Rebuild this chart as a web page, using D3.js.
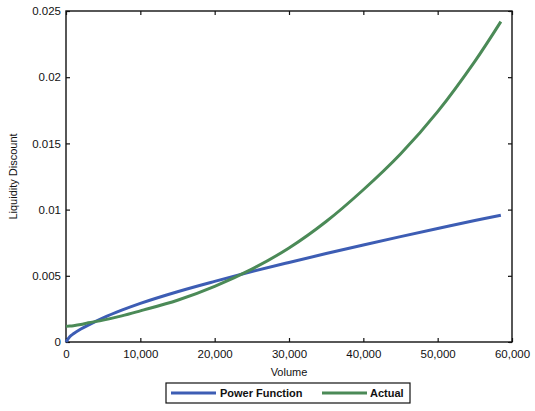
<!DOCTYPE html>
<html><head><meta charset="utf-8">
<script src="https://cdn.jsdelivr.net/npm/d3@7"></script>
<style>body{margin:0;background:#fff;} text{font-family:"Liberation Sans",Arial,sans-serif;}</style>
</head><body><svg id="c" width="535" height="411"></svg>
<script>
const volumes      = [0, 500, 1000, 2000, 3000, 5000, 7500, 10000, 15000, 20000, 25000, 30000, 35000, 40000, 45000, 50000, 55000, 58500];
const powerFunction= [0, 0.0004, 0.00062, 0.00098, 0.00128, 0.00182, 0.0024, 0.00292, 0.0038, 0.00458, 0.00532, 0.00601, 0.00668, 0.00733, 0.00796, 0.00857, 0.00917, 0.00958];
const actual       = [0.00118, 0.0012, 0.00123, 0.00132, 0.00145, 0.00165, 0.00197, 0.00235, 0.00315, 0.0042, 0.0055, 0.0071, 0.0091, 0.0115, 0.0142, 0.0174, 0.0212, 0.0242];
const xTicks = [0, 10000, 20000, 30000, 40000, 50000, 60000];
const yTicks = [0, 0.005, 0.01, 0.015, 0.02, 0.025];
const seriesNames = ["Power Function", "Actual"];
const colors = ["#3d5db4", "#4b8a57"];

const svg = d3.select("#c");
const L = 66, R = 512, T = 11, B = 342;
const x = d3.scaleLinear().domain([0, 60000]).range([L, R]);
const y = d3.scaleLinear().domain([0, 0.025]).range([B, T]);

// frame
svg.append("rect").attr("x", L).attr("y", T).attr("width", R - L).attr("height", B - T)
  .attr("fill", "none").attr("stroke", "#111").attr("stroke-width", 1.4);

const fmtX = d => d === 0 ? "0" : d3.format(",")(d);
const fmtY = d => d === 0 ? "0" : String(+d.toFixed(3));

const xb = svg.append("g").attr("transform", `translate(0,${B})`)
  .call(d3.axisBottom(x).tickValues(xTicks).tickFormat(fmtX).tickSizeInner(-4).tickSizeOuter(0).tickPadding(8));
const xt = svg.append("g").attr("transform", `translate(0,${T})`)
  .call(d3.axisTop(x).tickValues(xTicks).tickFormat("").tickSizeInner(-4).tickSizeOuter(0));
const yl = svg.append("g").attr("transform", `translate(${L},0)`)
  .call(d3.axisLeft(y).tickValues(yTicks).tickFormat(fmtY).tickSizeInner(-4).tickSizeOuter(0).tickPadding(5));
const yr = svg.append("g").attr("transform", `translate(${R},0)`)
  .call(d3.axisRight(y).tickValues(yTicks).tickFormat("").tickSizeInner(-4).tickSizeOuter(0));
[xb, xt, yl, yr].forEach(g => {
  g.select(".domain").remove();
  g.selectAll(".tick line").attr("stroke", "#111").attr("stroke-width", 1.2);
  g.selectAll("text").attr("font-size", 11.5).attr("fill", "#111").attr("font-family", "Liberation Sans, Arial, sans-serif");
});

const line = vals => d3.line().x((d, i) => x(volumes[i])).y(d => y(d)).curve(d3.curveCatmullRom.alpha(0.5))(vals);
svg.append("path").attr("d", line(powerFunction)).attr("fill", "none").attr("stroke", colors[0]).attr("stroke-width", 3);
svg.append("path").attr("d", line(actual)).attr("fill", "none").attr("stroke", colors[1]).attr("stroke-width", 3);

// axis labels
svg.append("text").attr("x", (L + R) / 2).attr("y", 376).attr("text-anchor", "middle")
  .attr("font-size", 11).attr("fill", "#111").text("Volume");
svg.append("text").attr("transform", `translate(17,${(T + B) / 2}) rotate(-90)`).attr("text-anchor", "middle")
  .attr("font-size", 11).attr("fill", "#111").text("Liquidity Discount");

// legend
const lg = svg.append("g");
lg.append("rect").attr("x", 166).attr("y", 383).attr("width", 244).attr("height", 20)
  .attr("fill", "#fff").attr("stroke", "#111").attr("stroke-width", 1.2);
const items = [{x0: 171, tx: 220}, {x0: 322, tx: 370}];
items.forEach((it, i) => {
  lg.append("line").attr("x1", it.x0).attr("x2", it.x0 + 45).attr("y1", 393).attr("y2", 393)
    .attr("stroke", colors[i]).attr("stroke-width", 3);
  lg.append("text").attr("x", it.tx).attr("y", 397).attr("font-size", 11).attr("font-weight", "bold")
    .attr("fill", "#111").text(seriesNames[i]);
});
</script></body></html>
